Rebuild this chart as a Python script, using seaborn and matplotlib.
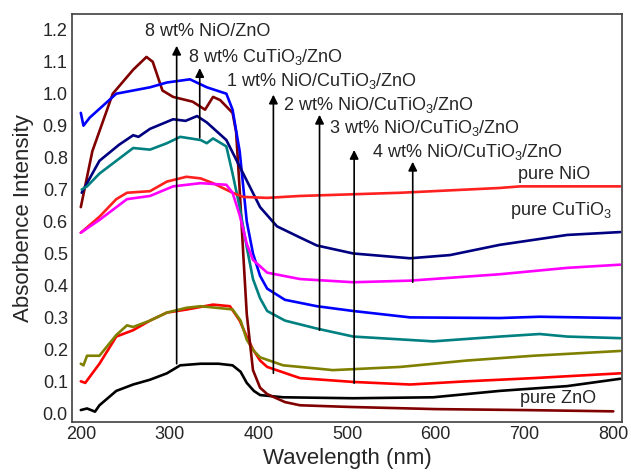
import matplotlib.pyplot as plt
import numpy as np
import pandas as pd
import seaborn as sns

# wavelength (nm) / absorbance points
zno_x = [200, 207, 216, 221, 240, 259, 278, 297, 312, 335, 355, 371, 380, 387, 395, 402, 428, 507, 597, 672, 748, 808]
zno_y = [0.01, 0.015, 0.005, 0.025, 0.07, 0.09, 0.105, 0.125, 0.15, 0.155, 0.155, 0.15, 0.13, 0.095, 0.07, 0.057, 0.05, 0.047, 0.05, 0.07, 0.085, 0.108]

red_low_x = [200, 205, 221, 240, 259, 278, 297, 320, 349, 368, 379, 387, 394, 402, 410, 447, 507, 571, 635, 710, 808]
red_low_y = [0.10, 0.095, 0.155, 0.24, 0.26, 0.29, 0.315, 0.325, 0.34, 0.335, 0.29, 0.24, 0.20, 0.165, 0.145, 0.11, 0.098, 0.09, 0.10, 0.11, 0.125]

olive_x = [200, 203, 207, 221, 240, 252, 259, 278, 297, 319, 335, 371, 380, 387, 395, 402, 428, 466, 484, 560, 635, 710, 808]
olive_y = [0.155, 0.15, 0.18, 0.18, 0.245, 0.275, 0.27, 0.29, 0.315, 0.33, 0.335, 0.325, 0.29, 0.23, 0.195, 0.175, 0.15, 0.14, 0.135, 0.145, 0.165, 0.18, 0.195]

maroon_x = [200, 213, 236, 259, 274, 281, 292, 304, 326, 340, 349, 357, 371, 375, 379, 383, 387, 394, 402, 410, 430, 447, 500, 600, 700, 800]
maroon_y = [0.645, 0.82, 1.0, 1.075, 1.115, 1.10, 1.01, 0.99, 0.975, 0.95, 0.99, 0.98, 0.94, 0.88, 0.70, 0.50, 0.31, 0.135, 0.08, 0.06, 0.035, 0.025, 0.02, 0.013, 0.01, 0.006]

blue_x = [200, 203, 210, 224, 240, 259, 278, 297, 323, 342, 364, 371, 379, 387, 394, 402, 410, 430, 466, 507, 571, 672, 717, 808]
blue_y = [0.94, 0.90, 0.925, 0.96, 1.0, 1.01, 1.02, 1.035, 1.045, 1.02, 1.0, 0.95, 0.82, 0.60, 0.50, 0.43, 0.39, 0.355, 0.335, 0.32, 0.30, 0.298, 0.302, 0.298]

navy_x = [201, 221, 243, 259, 265, 278, 304, 318, 331, 342, 364, 383, 402, 421, 447, 466, 507, 571, 616, 672, 748, 808]
navy_y = [0.69, 0.79, 0.84, 0.87, 0.865, 0.89, 0.92, 0.915, 0.93, 0.91, 0.855, 0.75, 0.645, 0.585, 0.55, 0.525, 0.50, 0.485, 0.495, 0.527, 0.558, 0.567]

teal_x = [201, 207, 221, 240, 259, 278, 297, 312, 335, 342, 349, 364, 371, 379, 387, 394, 402, 410, 430, 466, 507, 597, 672, 717, 748, 808]
teal_y = [0.70, 0.71, 0.75, 0.79, 0.83, 0.825, 0.845, 0.865, 0.855, 0.845, 0.86, 0.835, 0.75, 0.645, 0.52, 0.42, 0.36, 0.32, 0.29, 0.265, 0.24, 0.225, 0.24, 0.248, 0.24, 0.235]

nio_x = [200, 221, 240, 252, 278, 297, 319, 335, 349, 371, 383, 410, 447, 560, 672, 695, 808]
nio_y = [0.565, 0.615, 0.67, 0.69, 0.695, 0.725, 0.74, 0.735, 0.72, 0.69, 0.677, 0.674, 0.68, 0.69, 0.705, 0.71, 0.71]

cutio_x = [200, 221, 252, 278, 304, 335, 364, 371, 379, 387, 394, 410, 447, 507, 571, 672, 748, 808]
cutio_y = [0.565, 0.605, 0.67, 0.68, 0.71, 0.72, 0.715, 0.69, 0.62, 0.53, 0.48, 0.44, 0.42, 0.41, 0.415, 0.435, 0.455, 0.465]

# arrows: wavelength, tail, head, label, label x, label y
arrow_x = [308, 334, 417, 469, 508, 574]
arrow_from = [0.155, 0.862, 0.125, 0.26, 0.094, 0.41]
arrow_to = [1.15, 1.08, 0.997, 0.934, 0.824, 0.787]
arrow_text = ["8 wt% NiO/ZnO", "8 wt% CuTiO$_3$/ZnO", "1 wt% NiO/CuTiO$_3$/ZnO",
              "2 wt% NiO/CuTiO$_3$/ZnO", "3 wt% NiO/CuTiO$_3$/ZnO", "4 wt% NiO/CuTiO$_3$/ZnO"]
text_x = [272, 321, 364, 428, 480, 528]
text_y = [1.195, 1.116, 1.04, 0.966, 0.893, 0.818]

series = {
    "pure ZnO": (zno_x, zno_y, "#000000"),
    "8 wt% NiO/ZnO": (red_low_x, red_low_y, "#ff0000"),
    "olive": (olive_x, olive_y, "#808000"),
    "maroon": (maroon_x, maroon_y, "#800000"),
    "blue": (blue_x, blue_y, "#0000ff"),
    "navy": (navy_x, navy_y, "#000080"),
    "teal": (teal_x, teal_y, "#008080"),
    "pure NiO": (nio_x, nio_y, "#ff2020"),
    "pure CuTiO3": (cutio_x, cutio_y, "#ff00ff"),
}

frames = []
for name, (xs, ys, c) in series.items():
    frames.append(pd.DataFrame({"wavelength": xs, "absorbance": ys, "sample": name}))
df = pd.concat(frames, ignore_index=True)
palette = {name: v[2] for name, v in series.items()}

sns.set_style("white")
plt.rcParams["font.family"] = ["Liberation Sans", "DejaVu Sans"]
plt.rcParams["mathtext.fontset"] = "custom"
plt.rcParams["mathtext.rm"] = "Liberation Sans"
plt.rcParams["mathtext.it"] = "Liberation Sans:italic"

fig = plt.figure(figsize=(6.31, 4.76), dpi=100)
ax = fig.add_axes([0.114, 0.113, 0.872, 0.858])
sns.lineplot(data=df, x="wavelength", y="absorbance", hue="sample", palette=palette,
             sort=False, estimator=None, linewidth=1.9, legend=False, ax=ax)

for x, y0, y1 in zip(arrow_x, arrow_from, arrow_to):
    ax.annotate("", xy=(x, y1), xytext=(x, y0),
                arrowprops=dict(arrowstyle="-|>", color="black", lw=1.2, mutation_scale=13,
                                shrinkA=0, shrinkB=0), zorder=5)
for t, x, y in zip(arrow_text, text_x, text_y):
    ax.text(x, y, t, fontsize=13, ha="left", va="center")

ax.text(693, 0.746, "pure NiO", fontsize=13, ha="left", va="center")
ax.text(684, 0.636, "pure CuTiO$_3$", fontsize=13, ha="left", va="center")
ax.text(695, 0.047, "pure ZnO", fontsize=13, ha="left", va="center")

ax.set_xlim(190, 810)
ax.set_ylim(-0.028, 1.25)
ax.set_xticks(np.arange(200, 801, 100))
ax.set_yticks(np.arange(0, 1.21, 0.1))
ax.set_yticklabels([f"{v:.1f}" for v in np.arange(0, 1.21, 0.1)])
ax.tick_params(labelsize=13, length=0, pad=3)
ax.set_xlabel("Wavelength (nm)", fontsize=16, labelpad=3)
ax.set_ylabel("Absorbence Intensity", fontsize=16, labelpad=6)
for s in ax.spines.values():
    s.set_color("#404040")
    s.set_linewidth(1.2)

fig.savefig("out.png", dpi=100)
